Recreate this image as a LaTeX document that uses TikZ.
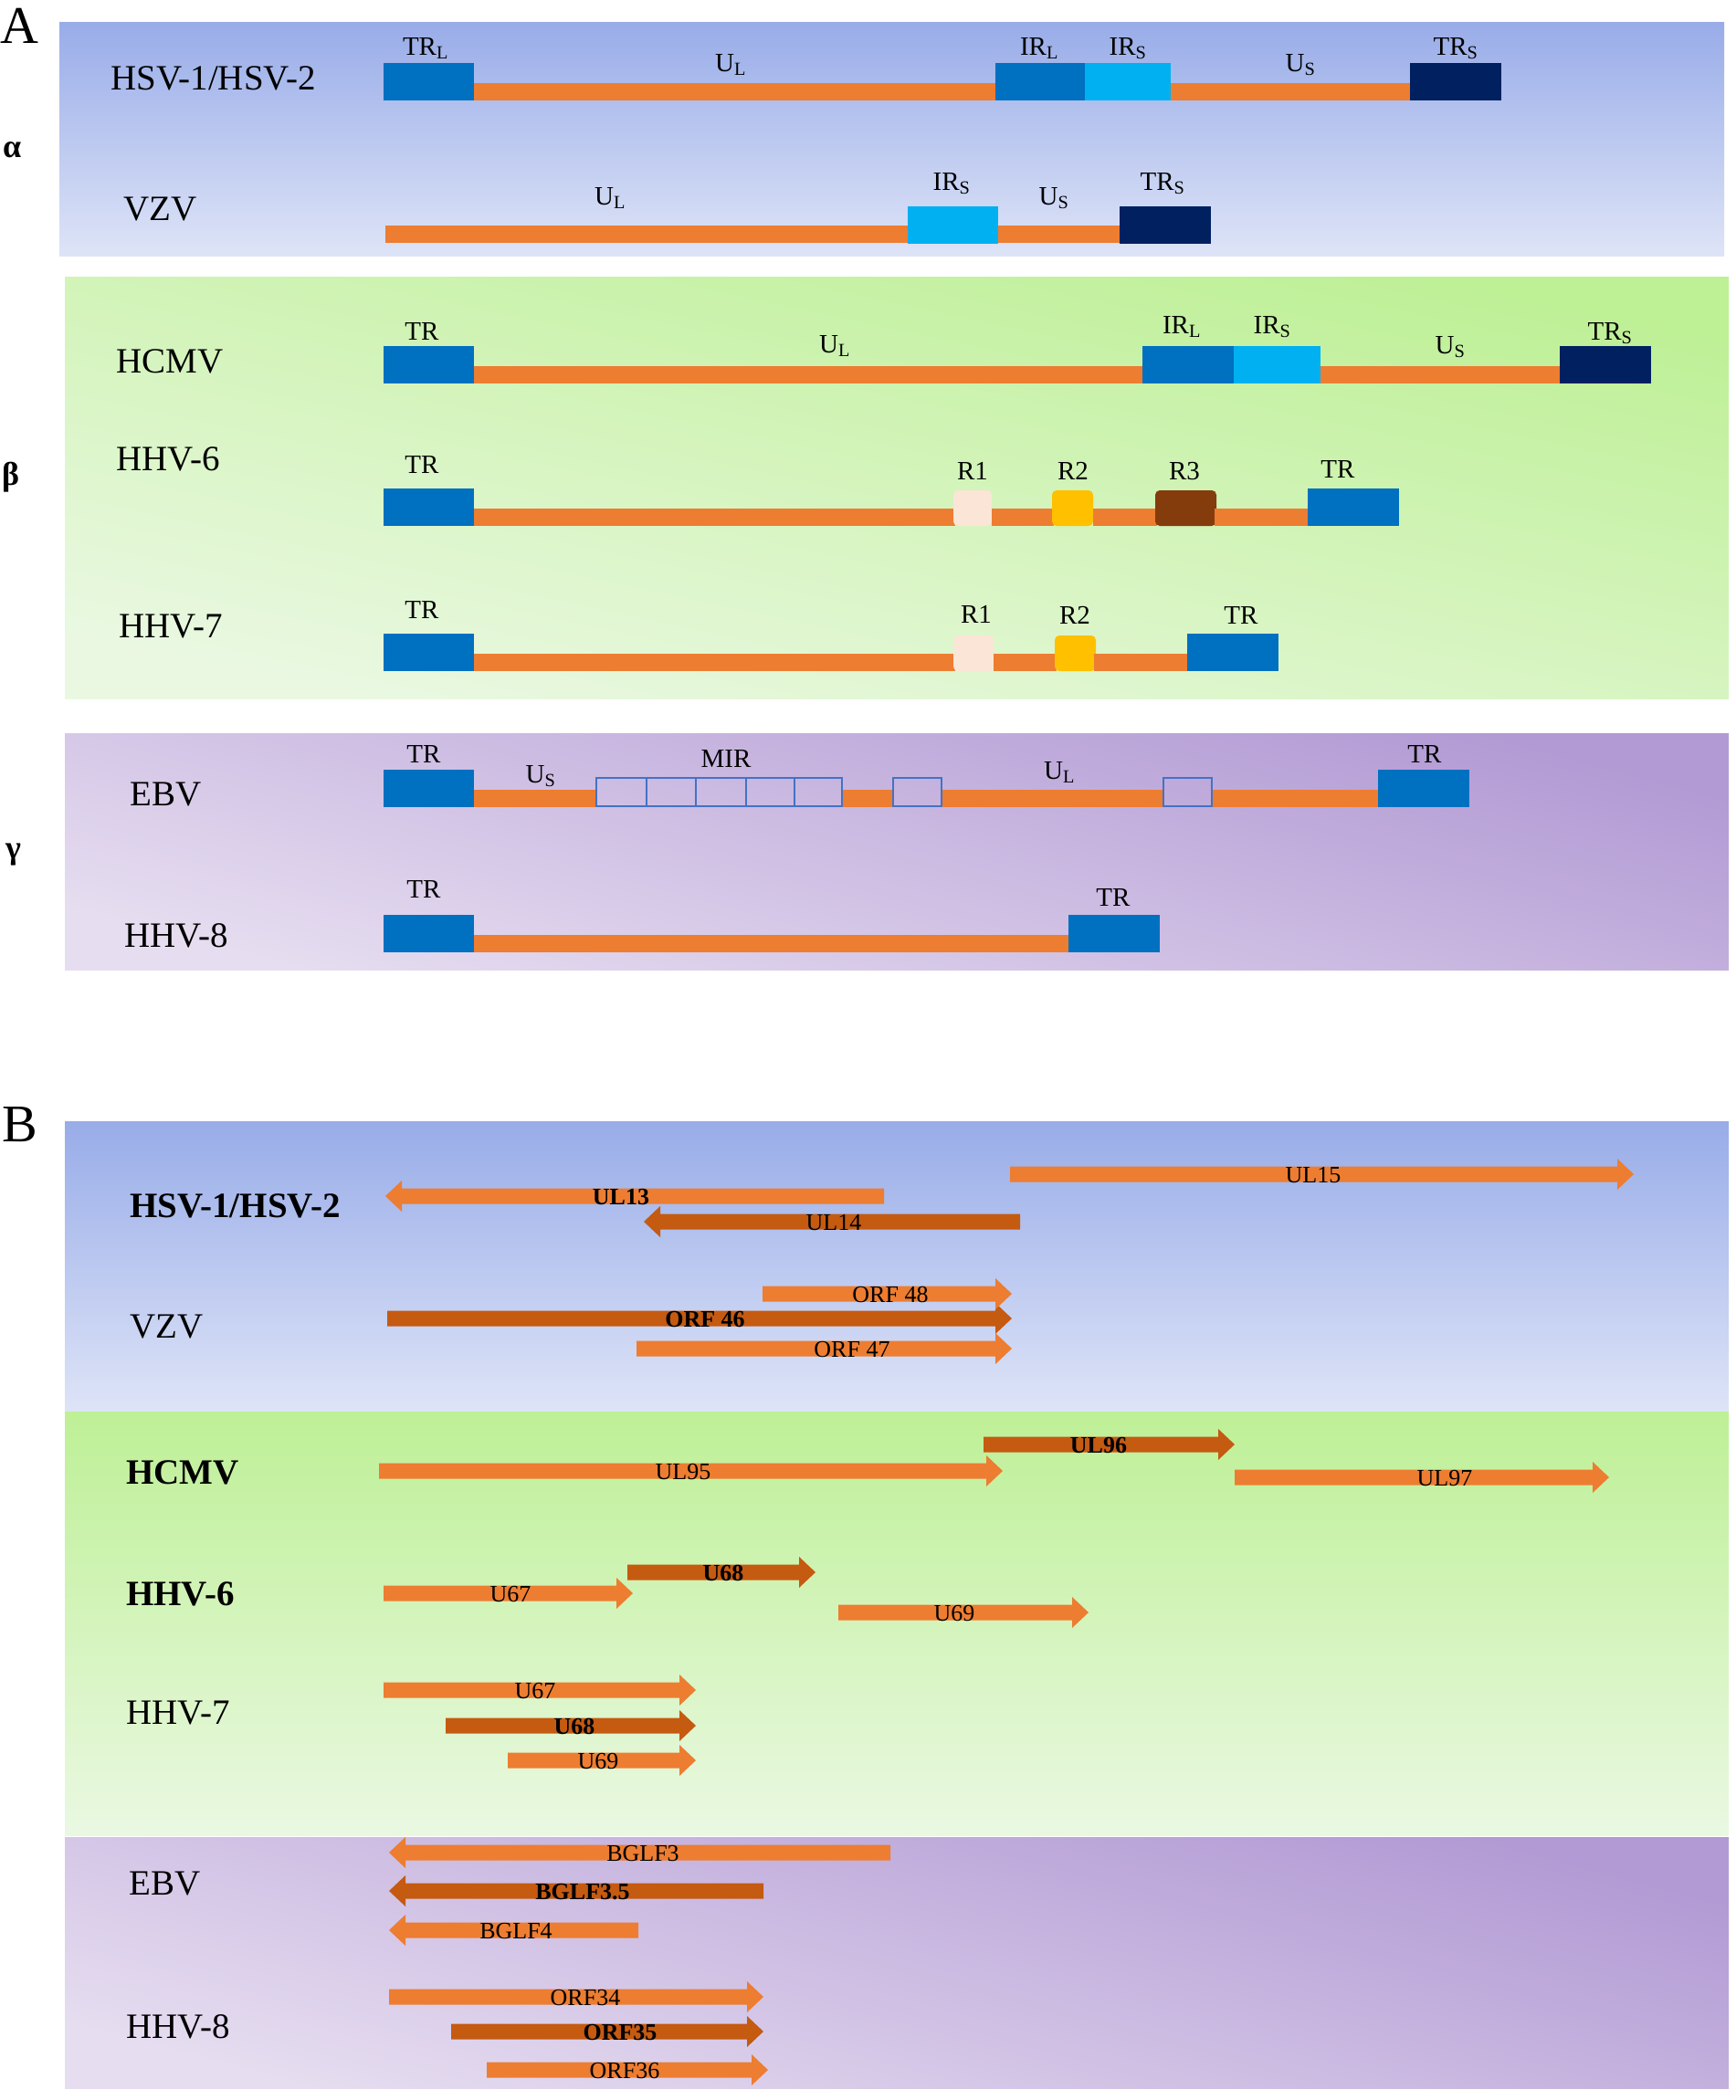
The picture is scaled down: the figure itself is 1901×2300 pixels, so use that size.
\documentclass[tikz,border=0pt]{standalone}
\usepackage{fontspec}
\setmainfont{Liberation Serif}
\definecolor{org}{HTML}{ED7D31}
\definecolor{dorg}{HTML}{C55A11}
\definecolor{trblue}{HTML}{0070C0}
\definecolor{irsblue}{HTML}{00B0F0}
\definecolor{navy}{HTML}{002060}
\definecolor{rone}{HTML}{FBE5D6}
\definecolor{rtwo}{HTML}{FFC000}
\definecolor{rthree}{HTML}{843C0C}
\definecolor{mir}{HTML}{4472C4}
\definecolor{bluetop}{RGB}{152,172,232}
\definecolor{bluebot}{RGB}{222,228,247}
\definecolor{greentop}{RGB}{190,240,150}
\definecolor{greenbot}{RGB}{234,248,226}
\definecolor{purtop}{RGB}{178,154,212}
\definecolor{purbot}{RGB}{230,221,240}
\newcommand\fs[1]{\fontsize{#1}{#1}\selectfont}
\tikzset{
  vir/.style={anchor=base west, inner sep=0pt, font=\fs{39}},
  virb/.style={anchor=base west, inner sep=0pt, font=\fs{39}\bfseries},
  seg/.style={anchor=base, inner sep=0pt, font=\fs{29}},
  gene/.style={inner sep=0pt, font=\fs{26}},
  geneb/.style={inner sep=0pt, font=\fs{26}\bfseries},
  greek/.style={anchor=base west, inner sep=0pt, font=\fs{36}\bfseries},
  panel/.style={anchor=base west, inner sep=0pt, font=\fs{58}},
}
% orange genome bar: x1 x2 ybottom
\newcommand\obar[3]{\fill[org] (#1,#3) rectangle (#2,{#3-19});}
% segment box: x1 x2 ybottom colour
\newcommand\segbox[4]{\fill[#4] (#1,#3) rectangle (#2,{#3-41});}
\newcommand\rbox[4]{\fill[#4, rounded corners=5pt] (#1,#3) rectangle (#2,{#3-39});}
\newcommand\mirbox[3]{\draw[mir, line width=2pt] (#1,{#3-1}) rectangle (#2,{#3-32});}
% right arrow: name xs xt y colour labelx style text
\newcommand\rarr[8]{%
  \fill[#5] (#2,{#4-8.5}) -- ({#3-18},{#4-8.5}) -- ({#3-18},{#4-17}) -- (#3,#4)
    -- ({#3-18},{#4+17}) -- ({#3-18},{#4+8.5}) -- (#2,{#4+8.5}) -- cycle;
  \node[#7] (#1) at (#6,{#4+1}) {#8};}
% left arrow: name xtip xend y colour labelx style text
\newcommand\larr[8]{%
  \fill[#5] (#3,{#4-8.5}) -- ({#2+18},{#4-8.5}) -- ({#2+18},{#4-17}) -- (#2,#4)
    -- ({#2+18},{#4+17}) -- ({#2+18},{#4+8.5}) -- (#3,{#4+8.5}) -- cycle;
  \node[#7] (#1) at (#6,{#4+1}) {#8};}
\begin{document}
\begin{tikzpicture}[x=1pt,y=-1pt]
\useasboundingbox (0,0) rectangle (1901,2300);
\fill[white] (0,0) rectangle (1901,2300);

% ---------------- panels ----------------
\shade[top color=bluetop, bottom color=bluebot] (65,24) rectangle (1888,280);
\shade[top color=greentop, bottom color=greenbot, shading angle=-12] (71,303) rectangle (1893,765);
\shade[top color=purtop, bottom color=purbot, shading angle=-15] (71,803) rectangle (1893,1062);
\shade[top color=bluetop, bottom color=bluebot] (71,1228) rectangle (1893,1546);
\shade[top color=greentop, bottom color=greenbot] (71,1546) rectangle (1893,2010);
\shade[top color=purtop, bottom color=purbot, shading angle=-15] (71,2012) rectangle (1893,2287);

\node[panel] (pA) at (0,47) {A};
\node[panel] (pB) at (2,1250) {B};

\node[greek] (galpha) at (3,172) {α};
\node[greek] (gbeta) at (2,531) {β};
\node[greek] (ggamma) at (6,940) {γ};

% ---------------- A: alpha ----------------
\node[vir] (aHSV) at (121,98) {HSV-1/HSV-2};
\node[vir] (aVZV) at (135,241) {VZV};

\segbox{420}{519}{110}{trblue}
\obar{519}{1090}{110}
\segbox{1090}{1188}{110}{trblue}
\segbox{1188}{1282}{110}{irsblue}
\obar{1282}{1544}{110}
\segbox{1544}{1644}{110}{navy}
\node[seg] (hTRL) at (466,60) {TR\textsubscript{L}};
\node[seg] (hUL) at (800,78) {U\textsubscript{L}};
\node[seg] (hIRL) at (1138,60) {IR\textsubscript{L}};
\node[seg] (hIRS) at (1235,60) {IR\textsubscript{S}};
\node[seg] (hUS) at (1424,78) {U\textsubscript{S}};
\node[seg] (hTRS) at (1594,60) {TR\textsubscript{S}};

\obar{422}{994}{266}
\segbox{994}{1093}{267}{irsblue}
\obar{1093}{1226}{266}
\segbox{1226}{1326}{267}{navy}
\node[seg] (vUL) at (668,224) {U\textsubscript{L}};
\node[seg] (vIRS) at (1042,208) {IR\textsubscript{S}};
\node[seg] (vUS) at (1154,224) {U\textsubscript{S}};
\node[seg] (vTRS) at (1273,208) {TR\textsubscript{S}};

% ---------------- A: beta ----------------
\node[vir] (aHCMV) at (127,408) {HCMV};
\node[vir] (aHHV6) at (127,515) {HHV-6};
\node[vir] (aHHV7) at (130,698) {HHV-7};

\segbox{420}{519}{420}{trblue}
\obar{519}{1251}{420}
\segbox{1251}{1351}{420}{trblue}
\segbox{1351}{1446}{420}{irsblue}
\obar{1446}{1708}{420}
\segbox{1708}{1808}{420}{navy}
\node[seg] (cTR) at (462,372) {TR};
\node[seg] (cUL) at (914,386) {U\textsubscript{L}};
\node[seg] (cIRL) at (1294,365) {IR\textsubscript{L}};
\node[seg] (cIRS) at (1393,365) {IR\textsubscript{S}};
\node[seg] (cUS) at (1588,387) {U\textsubscript{S}};
\node[seg] (cTRS) at (1763,372) {TR\textsubscript{S}};

\segbox{420}{519}{576}{trblue}
\obar{519}{1046}{576}
\rbox{1044}{1086}{576}{rone}
\obar{1086}{1154}{576}
\rbox{1152}{1197}{576}{rtwo}
\obar{1197}{1267}{576}
\rbox{1265}{1332}{576}{rthree}
\obar{1330}{1432}{576}
\segbox{1432}{1532}{576}{trblue}
\node[seg] (sTRa) at (462,518) {TR};
\node[seg] (sR1) at (1065,525) {R1};
\node[seg] (sR2) at (1175,525) {R2};
\node[seg] (sR3) at (1297,525) {R3};
\node[seg] (sTRb) at (1465,523) {TR};

\segbox{420}{519}{735}{trblue}
\obar{519}{1046}{735}
\rbox{1044}{1088}{735}{rone}
\obar{1088}{1157}{735}
\rbox{1155}{1200}{735}{rtwo}
\obar{1198}{1300}{735}
\segbox{1300}{1400}{735}{trblue}
\node[seg] (tTRa) at (462,677) {TR};
\node[seg] (tR1) at (1069,682) {R1};
\node[seg] (tR2) at (1177,683) {R2};
\node[seg] (tTRb) at (1359,683) {TR};

% ---------------- A: gamma ----------------
\node[vir] (aEBV) at (142,882) {EBV};
\node[vir] (aHHV8) at (136,1037) {HHV-8};

\segbox{420}{519}{884}{trblue}
\obar{519}{654}{884}
\obar{921}{979}{884}
\obar{1030}{1275}{884}
\obar{1326}{1509}{884}
\mirbox{653}{708}{884}
\mirbox{708}{762}{884}
\mirbox{762}{817}{884}
\mirbox{817}{870}{884}
\mirbox{870}{922}{884}
\mirbox{978}{1031}{884}
\mirbox{1274}{1327}{884}
\segbox{1509}{1609}{884}{trblue}
\node[seg] (eTRa) at (464,835) {TR};
\node[seg] (eUS) at (592,857) {U\textsubscript{S}};
\node[seg] (eMIR) at (795,840) {MIR};
\node[seg] (eUL) at (1160,853) {U\textsubscript{L}};
\node[seg] (eTRb) at (1560,835) {TR};

\segbox{420}{519}{1043}{trblue}
\obar{519}{1172}{1043}
\segbox{1170}{1270}{1043}{trblue}
\node[seg] (kTRa) at (464,983) {TR};
\node[seg] (kTRb) at (1219,992) {TR};

% ---------------- B ----------------
\node[virb] (bHSV) at (142,1333) {HSV-1/HSV-2};
\node[vir] (bVZV) at (142,1465) {VZV};
\node[virb] (bHCMV) at (138,1625) {HCMV};
\node[virb] (bHHV6) at (138,1758) {HHV-6};
\node[vir] (bHHV7) at (138,1888) {HHV-7};
\node[vir] (bEBV) at (141,2075) {EBV};
\node[vir] (bHHV8) at (138,2232) {HHV-8};

\larr{gUL13}{422}{968}{1310}{org}{680}{geneb}{UL13}
\larr{gUL14}{705}{1117}{1338}{dorg}{913}{gene}{UL14}
\rarr{gUL15}{1106}{1789}{1286}{org}{1438}{gene}{UL15}

\rarr{gORF46}{424}{1108}{1444}{dorg}{772}{geneb}{ORF 46}
\rarr{gORF48}{835}{1108}{1417}{org}{975}{gene}{ORF 48}
\rarr{gORF47}{697}{1108}{1477}{org}{933}{gene}{ORF 47}

\rarr{gUL95}{415}{1098}{1611}{org}{748}{gene}{UL95}
\rarr{gUL96}{1077}{1352}{1582}{dorg}{1203}{geneb}{UL96}
\rarr{gUL97}{1352}{1762}{1618}{org}{1582}{gene}{UL97}

\rarr{gU67a}{420}{693}{1745}{org}{559}{gene}{U67}
\rarr{gU68a}{687}{893}{1722}{dorg}{792}{geneb}{U68}
\rarr{gU69a}{918}{1192}{1766}{org}{1045}{gene}{U69}

\rarr{gU68b}{488}{762}{1890}{dorg}{629}{geneb}{U68}
\rarr{gU67b}{420}{762}{1851}{org}{586}{gene}{U67}
\rarr{gU69b}{556}{762}{1928}{org}{655}{gene}{U69}

\larr{gBGLF3}{426}{975}{2029}{org}{704}{gene}{BGLF3}
\larr{gBGLF35}{426}{836}{2071}{dorg}{638}{geneb}{BGLF3.5}
\larr{gBGLF4}{426}{699}{2114}{org}{565}{gene}{BGLF4}

\rarr{gORF35}{494}{836}{2225}{dorg}{679}{geneb}{ORF35}
\rarr{gORF34}{426}{836}{2187}{org}{641}{gene}{ORF34}
\rarr{gORF36}{533}{841}{2267}{org}{684}{gene}{ORF36}
\end{tikzpicture}
\end{document}
